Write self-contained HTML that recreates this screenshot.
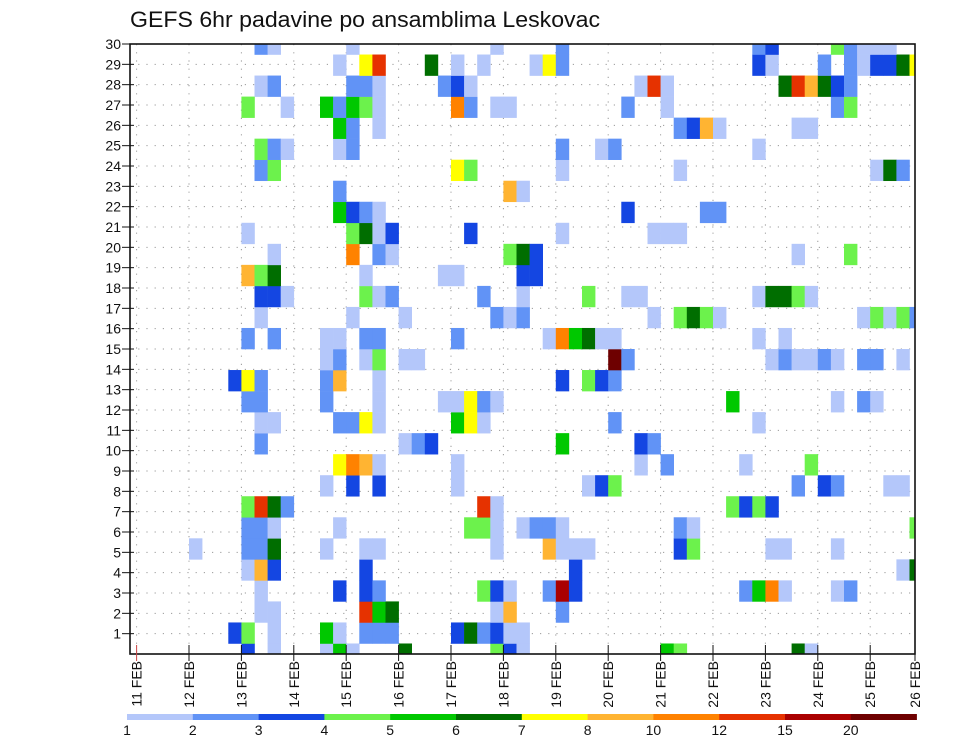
<!DOCTYPE html>
<html><head><meta charset="utf-8"><style>
html,body{margin:0;padding:0;background:#fff;}
svg{display:block;font-family:"Liberation Sans","DejaVu Sans",sans-serif;}
</style></head><body>
<svg id="chart" width="960" height="742" viewBox="0 0 960 742" xmlns="http://www.w3.org/2000/svg">
<rect x="0" y="0" width="960" height="742" fill="#fff"/>
<text x="130" y="27" font-size="22" fill="#111" textLength="470" lengthAdjust="spacingAndGlyphs">GEFS 6hr padavine po ansamblima Leskovac</text>
<defs><clipPath id="plotclip"><rect x="130" y="44" width="785" height="610"/></clipPath></defs>
<g id="grid"></g>
<g id="cells" clip-path="url(#plotclip)"></g>
<g id="axes"></g>
<g id="legend"></g>
</svg>
<script>
// ---- data ----
const dayLabels = ["11 FEB","12 FEB","13 FEB","14 FEB","15 FEB","16 FEB","17 FEB","18 FEB","19 FEB","20 FEB","21 FEB","22 FEB","23 FEB","24 FEB","25 FEB","26 FEB"];
const memberTicks = [1,2,3,4,5,6,7,8,9,10,11,12,13,14,15,16,17,18,19,20,21,22,23,24,25,26,27,28,29,30];
const legendBreaks = [1,2,3,4,5,6,7,8,10,12,15,20];
const legendColors = ["#b4c7fa","#6193f6","#1446e2","#6cf24c","#00c800","#006e00","#ffff00","#ffb432","#ff8200","#e63200","#aa0000","#6e0000"];
// cells: 6-hourly step index (from 11 FEB 00Z), ensemble member, precipitation (mm)
const cellSteps = [];
const cellMembers = [];
const cellPrecip = [];
const V = {L:1.5,M:2.5,D:3.5,LG:4.5,G:5.5,DG:6.5,Y:7.5,LO:9,O:11,R:13.5,R2:17,DR:22};
const rows = {
30:"9M 10L 16L 27L 32M 47M 48D 53LG 54M 55L 56L 57L",
29:"15L 17Y 18R 22DG 24L 26L 30L 31Y 32M 47D 48L 52M 54M 55L 56D 57D 58DG 59Y",
28:"9L 10M 16M 17M 18L 23M 24D 25L 38L 39R 40L 49DG 50R 51LO 52DG 53D 54M",
27:"8LG 11L 14G 15M 16G 17LG 18L 24O 25M 27L 28L 37M 40L 53M 54LG",
26:"15G 16M 18L 41M 42D 43LO 44L 50L 51L",
25:"9LG 10M 11L 15L 16M 32M 35L 36M 47L",
24:"9M 10LG 24Y 25LG 32L 41L 56L 57DG 58M",
23:"15M 28LO 29L",
22:"15G 16D 17M 18L 37D 43M 44M",
21:"8L 16LG 17DG 18L 19D 25D 32L 39L 40L 41L",
20:"10L 16O 18M 19L 28LG 29DG 30D 50L 54LG",
19:"8LO 9LG 10DG 17L 23L 24L 29D 30D",
18:"9D 10D 11L 17LG 18L 19M 26M 29L 34LG 37L 38L 47L 48DG 49DG 50LG 51L",
17:"9L 16L 20L 27M 28L 29M 39L 41LG 42DG 43LG 44L 55L 56LG 57L 58LG 59M",
16:"8M 10M 14L 15L 17M 18M 24M 31L 32O 33G 34DG 35L 36L 47L 49L",
15:"14L 15M 17L 18LG 20L 21L 36DR 37M 48L 49M 50L 51L 52M 53L 55M 56M 58L",
14:"7D 8Y 9M 14M 15LO 18L 32D 34LG 35D 36M",
13:"8M 9M 14M 18L 23L 24L 25Y 26M 27L 45G 53L 55M 56L",
12:"9L 10L 15M 16M 17Y 18L 24G 25Y 26L 36M 47L",
11:"9M 20L 21M 22D 32G 38D 39M",
10:"15Y 16O 17LO 18L 24L 38L 40M 46L 51LG",
9:"14L 16D 18D 24L 34L 35D 36LG 50M 52D 53M 57L 58L",
8:"8LG 9R 10DG 11M 26R 27L 45LG 46D 47LG 48D",
7:"8M 9M 10L 15L 25LG 26LG 27L 29L 30M 31M 32L 41M 42L 59LG",
6:"4L 8M 9M 10DG 14L 17L 18L 27L 31LO 32L 33L 34L 41D 42LG 48L 49L 53L",
5:"8L 9LO 10D 17D 33D 58L 59DG",
4:"9L 15D 17D 18M 26LG 27D 28L 31M 32R2 33D 46M 47G 48O 49L 53L 54M",
3:"9L 10L 17R 18G 19DG 27L 28LO 32M",
2:"7D 8LG 10L 14G 15L 17M 18M 19M 24D 25DG 26M 27D 28L 29L",
1:"8D 10L 14L 15G 16L 20DG 27LG 28D 29L 40G 41LG 50DG 51L"
};
for (const m in rows) {
  rows[m].split(" ").forEach(tok => {
    const mm = tok.match(/^(\d+)([A-Z0-9]+)$/);
    cellSteps.push(+mm[1]);
    cellMembers.push(+m);
    cellPrecip.push(V[mm[2]]);
  });
}

// ---- scales ----
const PL=130, PR=915, PT=44, PB=654;
const X0=136.6, DAYW=52.4;
function xDay(d){ return Math.min(X0 + d*DAYW, PR); }
function xStep(s){ return X0 + s*DAYW/4; }
const STEPW = DAYW/4;
const MEMH = (PB-PT)/29;
function yMember(m){ return PB - (m-1)*MEMH; }
function yTick(k){ return PB - k*(PB-PT)/30; }
function colorFor(v){
  let idx=-1;
  for(let i=0;i<legendBreaks.length;i++){ if(v>=legendBreaks[i]) idx=i; }
  return idx<0 ? null : legendColors[idx];
}

const NS="http://www.w3.org/2000/svg";
function mk(tag, attrs, parent){
  const e=document.createElementNS(NS,tag);
  for(const k in attrs) e.setAttribute(k,attrs[k]);
  parent.appendChild(e); return e;
}
const grid=document.getElementById('grid');
const cells=document.getElementById('cells');
const axes=document.getElementById('axes');
const legend=document.getElementById('legend');

// grid lines
memberTicks.forEach(k=>{
  const y=yTick(k);
  const l=mk('line',{x1:PL,x2:PR,y1:y,y2:y,stroke:'#999','stroke-width':1,'stroke-dasharray':'1.2,7'},grid);
  
  
});
dayLabels.forEach((d,i)=>{
  const x=xDay(i);
  if(x<=PL+1||x>=PR-1) return;
  const l=mk('line',{x1:x,x2:x,y1:PT,y2:PB,stroke:'#999','stroke-width':1,'stroke-dasharray':'1.2,7'},grid);
  
  
});

// cells
for(let i=0;i<cellSteps.length;i++){
  const c=colorFor(cellPrecip[i]); if(!c) continue;
  const yc=yMember(cellMembers[i]);
  const r=mk('rect',{x:xStep(cellSteps[i]).toFixed(2),y:(yc-MEMH/2).toFixed(2),width:(STEPW+0.3).toFixed(2),height:(MEMH+0.3).toFixed(2),fill:c},cells);
  
  
}

// frame
const fr=mk('rect',{x:PL,y:PT,width:PR-PL,height:PB-PT,fill:'none',stroke:'#111','stroke-width':1.6},axes);



// y ticks + labels
memberTicks.forEach(k=>{
  const y=yTick(k);
  const t=mk('line',{x1:PL-8,x2:PL+4,y1:y,y2:y,stroke:'#111','stroke-width':1},axes);
  
  
  const tx=mk('text',{x:PL-9,y:y+5,'font-size':14,'text-anchor':'end',fill:'#111'},axes);
  tx.textContent=String(k);
  
  
});

// x ticks + labels
dayLabels.forEach((d,i)=>{
  const x=xDay(i);
  const t=mk('line',{x1:x,x2:x,y1:PB-9,y2:PB+7,stroke:i===0?'#c44':'#111','stroke-width':1},axes);
  
  
  const tx=mk('text',{x:0,y:0,'font-size':14,'text-anchor':'end',fill:'#111',transform:`translate(${(x+5).toFixed(1)},661) rotate(-90)`},axes);
  tx.textContent=d;
  
  
});

// legend
const LX=127, LW=(916.6-127)/legendColors.length;
legendColors.forEach((c,i)=>{
  const r=mk('rect',{x:(LX+i*LW).toFixed(2),y:714,width:(LW+0.3).toFixed(2),height:6,fill:c},legend);
  
  
});
legendBreaks.forEach((b,i)=>{
  const tx=mk('text',{x:(LX+i*LW).toFixed(2),y:735,'font-size':14,'text-anchor':'middle',fill:'#111'},legend);
  tx.textContent=String(b);
  
  
});
</script>
</body></html>
